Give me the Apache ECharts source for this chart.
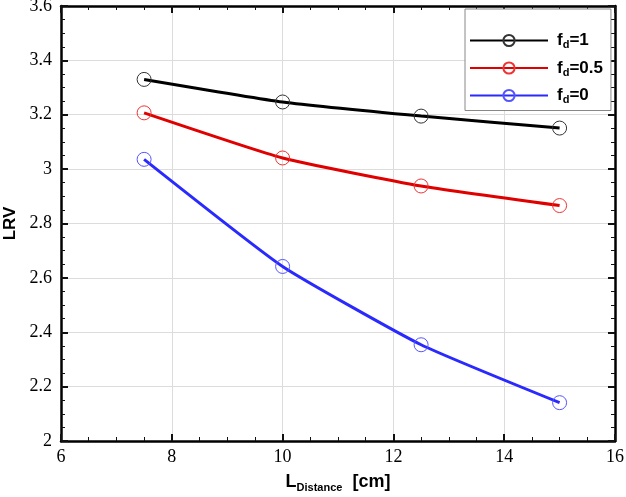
<!DOCTYPE html>
<html>
<head>
<meta charset="utf-8">
<script src="https://cdn.jsdelivr.net/npm/echarts@6/dist/echarts.min.js"></script>
<style>html,body{margin:0;padding:0;background:#fff;}#c{width:626px;height:497px;}</style>
</head>
<body>
<div id="c"></div>
<script>
const distances = [7.5, 10, 12.5, 15];
const lrvFd1 = [3.33, 3.247, 3.195, 3.151];
const lrvFd05 = [3.207, 3.041, 2.938, 2.866];
const lrvFd0 = [3.036, 2.642, 2.354, 2.141];
const seriesNames = ['fd=1', 'fd=0.5', 'fd=0'];
const legendLabels = {'fd=1': '1', 'fd=0.5': '0.5', 'fd=0': '0'};

const chart = echarts.init(document.getElementById('c'));
const serifFont = '"Liberation Serif", "Times New Roman", serif';
const sansFont = '"Liberation Sans", Arial, sans-serif';

function mk(name, vals, lineColor, symColor) {
  return {
    name: name, type: 'line', smooth: 0.15,
    xAxisIndex: 0, yAxisIndex: 0,
    data: distances.map((d, i) => [d, vals[i]]),
    symbol: 'circle', symbolSize: 14,
    lineStyle: {color: lineColor, width: 3},
    itemStyle: {color: 'rgba(0,0,0,0)', borderColor: symColor, borderWidth: 1},
    z: 3
  };
}

function axisBase() {
  return {
    axisLine: {show: true, lineStyle: {color: '#000', width: 2.5}},
    axisTick: {show: true, inside: true, length: 7, lineStyle: {color: '#111', width: 2}},
    minorTick: {show: true, splitNumber: 4, length: 4, lineStyle: {color: '#111', width: 1}},
    splitLine: {show: false},
    axisLabel: {show: false}
  };
}

const xMain = axisBase();
Object.assign(xMain, {
  type: 'value', position: 'bottom', min: 6, max: 16, interval: 2,
  name: '{L|L}{s|Distance}{L|  [cm]}', nameLocation: 'middle', nameGap: 31,
  nameTextStyle: {
    rich: {
      L: {fontFamily: sansFont, fontWeight: 'bold', fontSize: 18, color: '#000'},
      s: {fontFamily: sansFont, fontWeight: 'bold', fontSize: 11, color: '#000', padding: [10, 0, 0, 0]}
    }
  }
});
xMain.splitLine = {show: true, lineStyle: {color: '#dcdcdc', width: 1}};
xMain.axisLabel = {show: true, fontFamily: serifFont, fontSize: 18, color: '#000', margin: 7};

const yMain = axisBase();
Object.assign(yMain, {
  type: 'value', position: 'left', min: 2, max: 3.6, interval: 0.2,
  name: 'LRV', nameLocation: 'middle', nameGap: 30, nameRotate: 90,
  nameTextStyle: {fontFamily: sansFont, fontWeight: 'bold', fontSize: 17, color: '#000'}
});
yMain.splitLine = {show: true, lineStyle: {color: '#dcdcdc', width: 1}};
yMain.axisLabel = {show: true, fontFamily: serifFont, fontSize: 18, color: '#000', margin: 9,
  formatter: v => String(Math.round(v * 10) / 10)};

const xTop = Object.assign(axisBase(), {type: 'value', position: 'top', min: 6, max: 16, interval: 2});
const yRight = Object.assign(axisBase(), {type: 'value', position: 'right', min: 2, max: 3.6, interval: 0.2});

chart.setOption({
  animation: false,
  grid: {left: 61, right: 11, top: 6, bottom: 56, containLabel: false, outerBoundsMode: 'none'},
  xAxis: [xMain, xTop],
  yAxis: [yMain, yRight],
  legend: {
    show: true, orient: 'vertical', left: 465, top: 9,
    padding: [23, 8, 5, 4],
    itemWidth: 78, itemHeight: 14, itemGap: 9,
    backgroundColor: '#fff', borderColor: '#888', borderWidth: 1,
    data: seriesNames,
    formatter: n => '{a|f}{b|d}{a|=' + legendLabels[n] + '}',
    textStyle: {
      padding: [0, 0, 0, 4],
      rich: {
        a: {fontFamily: sansFont, fontWeight: 'bold', fontSize: 17, color: '#000'},
        b: {fontFamily: sansFont, fontWeight: 'bold', fontSize: 11, color: '#000', padding: [9, 0, 0, 0]}
      }
    }
  },
  series: [
    mk(seriesNames[0], lrvFd1, '#000000', '#333333'),
    mk(seriesNames[1], lrvFd05, '#e00000', '#ee3333'),
    mk(seriesNames[2], lrvFd0, '#2a2aff', '#5555ff')
  ]
});
</script>
</body>
</html>
